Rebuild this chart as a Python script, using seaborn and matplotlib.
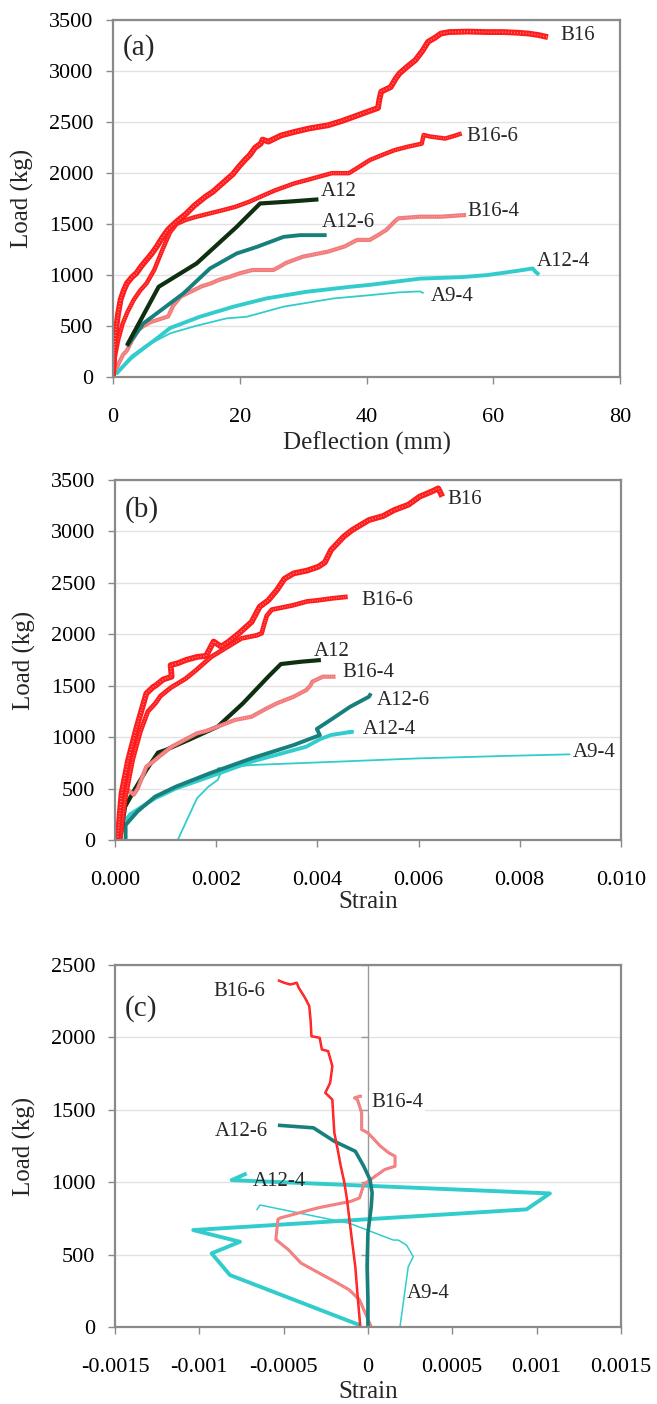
import numpy as np
import pandas as pd
import matplotlib
matplotlib.use("Agg")
import matplotlib.pyplot as plt
import seaborn as sns

sns.set_theme(style="white")
plt.rcParams['font.family'] = ['Liberation Serif', 'DejaVu Serif']

# ---------------- (a) load vs mid-span deflection ----------------
a_b16_x = [0, 0.2, 0.4, 0.8, 1.2, 1.7, 2.2, 3.0, 3.7, 4.5, 5.3, 6.1, 6.9, 7.8, 8.6, 9.4, 10.3,
           11.5, 12.8, 13.6, 14.6, 15.8, 16.7, 17.8, 18.9, 19.8, 20.8, 21.6, 22.4, 23.3, 23.6,
           24.5, 26.5, 28.6, 31.0, 33.9, 36.0, 37.8, 40.0, 41.8, 42.0, 42.3, 43.8, 44.6, 45.2,
           46.5, 47.7, 48.8, 49.7, 50.8, 51.7, 53.0, 56.0, 59.0, 61.6, 64.0, 65.6, 67.2, 68.6]
a_b16_y = [0, 250, 430, 620, 760, 850, 920, 980, 1020, 1090, 1150, 1210, 1280, 1370, 1440, 1490,
           1540, 1600, 1680, 1720, 1770, 1820, 1870, 1930, 1990, 2060, 2130, 2180, 2250, 2290,
           2330, 2310, 2370, 2405, 2440, 2470, 2510, 2550, 2600, 2640, 2720, 2800, 2845, 2930,
           2980, 3050, 3110, 3200, 3290, 3330, 3370, 3385, 3390, 3385, 3385, 3378, 3370, 3355, 3335]

a_b16_6_x = [0, 0.3, 0.8, 1.5, 2.3, 3.3, 4.3, 5.3, 6.5, 7.8, 9.0, 10.0, 11.4, 13.0, 15.3, 17.5,
             19.3, 21.5, 23.3, 25.5, 28.6, 31.0, 34.5, 37.2, 38.5, 40.5, 42.5, 44.4, 46.5, 48.7,
             49.0, 50.0, 52.4, 54.0, 55.0]
a_b16_6_y = [0, 200, 360, 520, 640, 760, 850, 920, 1050, 1250, 1420, 1500, 1540, 1570, 1606, 1640,
             1670, 1720, 1770, 1830, 1900, 1940, 2000, 2000, 2050, 2129, 2180, 2226, 2260, 2290,
             2375, 2360, 2340, 2370, 2390]

a_b16_4_x = [0, 0.8, 1.6, 2.2, 3.0, 4.0, 4.8, 6.0, 7.5, 8.7, 9.5, 10.7, 12.0, 14.0, 15.5, 16.7,
             18.5, 20.0, 22.0, 25.3, 26.5, 27.2, 29.9, 31.5, 33.9, 36.5, 38.5, 40.5, 42.0, 43.1,
             44.4, 45.0, 48.4, 51.7, 55.7]
a_b16_4_y = [0, 120, 220, 260, 360, 460, 500, 540, 570, 594, 700, 790, 830, 890, 920, 953,
             985, 1018, 1050, 1050, 1090, 1117, 1180, 1200, 1230, 1280, 1345, 1345, 1400, 1443,
             1525, 1557, 1573, 1573, 1590]

a_a12_x = [2.2, 7.2, 13.2, 19.5, 23.2, 27.5, 32.4]
a_a12_y = [310, 885, 1115, 1473, 1703, 1720, 1743]

a_a12_6_x = [2.2, 4.8, 11.1, 15.3, 19.5, 22.7, 26.9, 29.5, 33.7]
a_a12_6_y = [300, 526, 820, 1065, 1212, 1277, 1375, 1392, 1392]

a_a12_4_x = [0.5, 3.0, 6.6, 9.0, 13.7, 19.0, 24.2, 30.5, 37.4, 40.5, 48.4, 55.0, 59.0, 63.6,
             66.2, 66.6, 67.2]
a_a12_4_y = [30, 200, 363, 480, 591, 690, 771, 836, 885, 904, 965, 980, 1000, 1040,
             1065, 1035, 1002]

a_a9_4_x = [0.5, 3.0, 6.0, 9.0, 13.0, 17.9, 21.1, 26.9, 34.8, 40.0, 45.0, 48.4, 49.0]
a_a9_4_y = [30, 180, 330, 428, 500, 575, 591, 690, 771, 800, 830, 840, 822]

# ---------------- (b) load vs tension steel strain ----------------
b_b16_x = [0.00005, 0.00013, 0.00026, 0.00043, 0.00062, 0.00076, 0.0008, 0.00095, 0.00112,
           0.0011, 0.00125, 0.0014, 0.00162, 0.0018, 0.00195, 0.0021, 0.00225, 0.00245, 0.0027,
           0.00286, 0.00303, 0.0032, 0.00335, 0.00353, 0.0038, 0.00402, 0.00415, 0.00427,
           0.00452, 0.00469, 0.00502, 0.0053, 0.00552, 0.0058, 0.00602, 0.00627, 0.00639,
           0.00643, 0.00647]
b_b16_y = [0, 454, 777, 1100, 1425, 1490, 1500, 1560, 1588, 1700, 1720, 1750, 1780, 1790, 1930,
           1880, 1930, 2009, 2120, 2268, 2330, 2430, 2540, 2592, 2620, 2657, 2700, 2819, 2949,
           3014, 3111, 3150, 3208, 3260, 3338, 3390, 3419, 3380, 3338]

b_b16_6_x = [0.0001, 0.0002, 0.00035, 0.0005, 0.00065, 0.0008, 0.0009, 0.0011, 0.0014, 0.0016,
             0.0019, 0.0022, 0.0025, 0.0028, 0.0029, 0.00295, 0.003, 0.0031, 0.0035, 0.0038,
             0.004, 0.0043, 0.0046]
b_b16_6_y = [0, 400, 780, 1050, 1250, 1330, 1400, 1480, 1570, 1650, 1780, 1870, 1960, 1990,
             2010, 2100, 2180, 2240, 2280, 2320, 2330, 2350, 2365]

b_b16_4_x = [0.0001, 0.00015, 0.0002, 0.00028, 0.00037, 0.00045, 0.00062, 0.00075, 0.00087,
             0.00112, 0.0014, 0.00162, 0.0018, 0.00203, 0.00237, 0.0027, 0.003, 0.0032,
             0.00353, 0.00378, 0.00386, 0.0039, 0.00411, 0.00436]
b_b16_4_y = [0, 250, 454, 480, 440, 500, 713, 760, 810, 907, 980, 1037, 1060, 1102, 1167, 1199,
             1280, 1329, 1393, 1458, 1500, 1539, 1588, 1588]

b_a12_x = [0.0001, 0.0002, 0.0004, 0.00062, 0.00085, 0.001, 0.00145, 0.00203, 0.00253,
           0.00303, 0.00328, 0.00369, 0.00407]
b_a12_y = [0, 324, 500, 680, 850, 875, 972, 1102, 1329, 1588, 1711, 1734, 1750]

b_a12_6_x = [0.00021, 0.00021, 0.00045, 0.00079, 0.0012, 0.00187, 0.0027, 0.00353, 0.00405,
             0.00399, 0.0043, 0.00465, 0.00502, 0.00506]
b_a12_6_y = [0, 146, 280, 421, 518, 648, 794, 923, 1020, 1080, 1180, 1296, 1393, 1426]

b_a12_4_x = [0.00012, 0.0003, 0.00079, 0.0012, 0.00187, 0.0027, 0.00378, 0.00405, 0.00427,
             0.00469, 0.00462]
b_a12_4_y = [130, 250, 405, 500, 616, 762, 907, 980, 1021, 1053, 1045]

b_a9_4_x = [0.00124, 0.00162, 0.00185, 0.00203, 0.00212, 0.00203, 0.0027, 0.00436, 0.00602,
            0.00768, 0.009]
b_a9_4_y = [0, 405, 520, 583, 680, 697, 729, 761, 794, 817, 833]

# ---------------- (c) load vs compression steel strain ----------------
c_b16_6_x = [-0.000045, -0.00006, -0.000075, -0.0001, -0.000124, -0.00014, -0.000161, -0.00018,
             -0.000199, -0.000205, -0.000211, -0.000253, -0.000224, -0.000211, -0.000236,
             -0.000273, -0.000286, -0.000335, -0.00034, -0.000348, -0.000373, -0.00041,
             -0.000422, -0.000459, -0.000497, -0.000534]
c_b16_6_y = [0, 200, 419, 650, 880, 1000, 1111, 1230, 1341, 1450, 1571, 1618, 1687, 1802, 1906,
             1917, 1998, 2009, 2120, 2217, 2274, 2343, 2378, 2366, 2378, 2396]

c_b16_4_x = [0.00002, -0.00005, -0.000112, -0.000199, -0.0003, -0.000397, -0.000472, -0.000546,
             -0.000534, -0.000522, -0.000298, -0.0000993, -0.0000497, -0.0000248, 0.0,
             0.0000993, 0.000161, 0.000161, 0.000124, 0.0000745, 0.0000373, 0.0, -0.0000373,
             -0.0000373, -0.0000621, -0.0000795, -0.0000497, -0.000035]
c_b16_4_y = [0, 189, 258, 316, 380, 442, 535, 604, 742, 753, 823, 869, 892, 984, 1006, 1088,
             1111, 1180, 1203, 1249, 1295, 1341, 1364, 1479, 1571, 1583, 1594, 1594]

c_a12_6_x = [0.0, 0.0, -0.000005, 0.0, 0.00002, 0.000025, 0.0000124, -0.0000248, -0.0000745,
             -0.000199, -0.000323, -0.000534]
c_a12_6_y = [0, 189, 419, 650, 834, 926, 1018, 1111, 1214, 1283, 1376, 1394]

c_a12_4_x = [-0.00005, -0.000818, -0.000927, -0.000759, -0.001036, 0.000941, 0.001079,
             -0.000808, -0.000719]
c_a12_4_y = [14, 359, 509, 589, 670, 813, 923, 1015, 1061]

c_a9_4_x = [0.00019, 0.000239, 0.000269, 0.000229, 0.00018, 0.00015, -0.000107, -0.00064, -0.00066]
c_a9_4_y = [0, 416, 486, 566, 601, 601, 716, 843, 808]

# tick labels
a_xticks = [0, 20, 40, 60, 80]
load_ticks_ab = [0, 500, 1000, 1500, 2000, 2500, 3000, 3500]
b_xticks = [0.000, 0.002, 0.004, 0.006, 0.008, 0.010]
b_xticklabels = ["0.000", "0.002", "0.004", "0.006", "0.008", "0.010"]
c_xticks = [-0.0015, -0.001, -0.0005, 0.0, 0.0005, 0.001, 0.0015]
c_xticklabels = ["-0.0015", "-0.001", "-0.0005", "0", "0.0005", "0.001", "0.0015"]
load_ticks_c = [0, 500, 1000, 1500, 2000, 2500]

RED = "#ff1c1c"
PINK = "#f27a7a"
DKGREEN = "#0e2f10"
TEAL = "#18807c"
TURQ = "#33cccc"
GRID = "#e2e2e2"
FRAME = "#8a8a8a"


def curve(ax, x, y, color, lw, speckle=False):
    df = pd.DataFrame({"x": x, "y": y})
    sns.lineplot(data=df, x="x", y="y", sort=False, estimator=None, color=color, lw=lw,
                 ax=ax, legend=False, solid_joinstyle="round", solid_capstyle="butt")
    if speckle:
        # fine white stipple over the red trace (patterned line fill)
        sns.lineplot(data=df, x="x", y="y", sort=False, estimator=None, color="white",
                     lw=lw * 0.28, alpha=0.5, linestyle=(0, (0.5, 1.3)), ax=ax, legend=False)


def frame(ax, xlim, ylim, xticks, yticks, xlabels, xlabel, xlabelpad):
    ax.set_xlim(*xlim)
    ax.set_ylim(*ylim)
    ax.set_xticks(xticks)
    ax.set_xticklabels(xlabels)
    ax.set_yticks(yticks)
    ax.set_yticklabels([str(v) for v in yticks])
    ax.yaxis.grid(True, color=GRID, lw=1.0)
    ax.xaxis.grid(False)
    ax.set_axisbelow(True)
    for s in ax.spines.values():
        s.set_color(FRAME)
        s.set_linewidth(1.6)
    ax.tick_params(axis="both", which="both", bottom=True, left=True, direction="out",
                   length=5, width=1.0, color=FRAME, labelsize=16, labelcolor="black")
    ax.tick_params(axis="x", pad=17)
    ax.tick_params(axis="y", pad=9)
    ax.set_xlabel(xlabel, fontsize=18, labelpad=xlabelpad)
    ax.set_ylabel("Load (kg)", fontsize=18, labelpad=11)


fig = plt.figure(figsize=(6.57, 14.04), dpi=100)
ax_a = fig.add_axes([0.172, 0.7315, 0.772, 0.254])
ax_b = fig.add_axes([0.175, 0.4017, 0.770, 0.2564])
ax_c = fig.add_axes([0.175, 0.0548, 0.770, 0.2578])

LBL = 15

# (a)
curve(ax_a, a_b16_4_x, a_b16_4_y, PINK, 3.0, speckle=True)
curve(ax_a, a_a9_4_x, a_a9_4_y, TURQ, 1.3)
curve(ax_a, a_a12_4_x, a_a12_4_y, TURQ, 2.8)
curve(ax_a, a_a12_6_x, a_a12_6_y, TEAL, 2.8)
curve(ax_a, a_a12_x, a_a12_y, DKGREEN, 3.0)
curve(ax_a, a_b16_6_x, a_b16_6_y, RED, 3.2, speckle=True)
curve(ax_a, a_b16_x, a_b16_y, RED, 4.2, speckle=True)
frame(ax_a, (0, 80), (0, 3500), a_xticks, load_ticks_ab, [str(v) for v in a_xticks],
      "Deflection (mm)", 4)
ax_a.text(0.051, 0.925, "(a)", transform=ax_a.transAxes, fontsize=21, ha="center", va="center")
ax_a.text(70.5, 3353, "B16", fontsize=LBL, va="center")
ax_a.text(55.7, 2357, "B16-6", fontsize=LBL, va="center")
ax_a.text(32.7, 1818, "A12", fontsize=LBL, va="center")
ax_a.text(32.9, 1515, "A12-6", fontsize=LBL, va="center")
ax_a.text(55.9, 1622, "B16-4", fontsize=LBL, va="center")
ax_a.text(66.9, 1133, "A12-4", fontsize=LBL, va="center")
ax_a.text(50.2, 790, "A9-4", fontsize=LBL, va="center")

# (b)
curve(ax_b, b_a9_4_x, b_a9_4_y, TURQ, 1.3)
curve(ax_b, b_a12_4_x, b_a12_4_y, TURQ, 2.8)
curve(ax_b, b_a12_6_x, b_a12_6_y, TEAL, 2.8)
curve(ax_b, b_a12_x, b_a12_y, DKGREEN, 3.0)
curve(ax_b, b_b16_4_x, b_b16_4_y, PINK, 3.0, speckle=True)
curve(ax_b, b_b16_6_x, b_b16_6_y, RED, 3.4, speckle=True)
curve(ax_b, b_b16_x, b_b16_y, RED, 4.2, speckle=True)
frame(ax_b, (0, 0.010), (0, 3500), b_xticks, load_ticks_ab, b_xticklabels, "Strain", 1)
ax_b.text(0.054, 0.917, "(b)", transform=ax_b.transAxes, fontsize=21, ha="center", va="center")
ax_b.text(0.00658, 3310, "B16", fontsize=LBL, va="center")
ax_b.text(0.00487, 2333, "B16-6", fontsize=LBL, va="center")
ax_b.text(0.00393, 1837, "A12", fontsize=LBL, va="center")
ax_b.text(0.0045, 1630, "B16-4", fontsize=LBL, va="center")
ax_b.text(0.00517, 1354, "A12-6", fontsize=LBL, va="center")
ax_b.text(0.0049, 1076, "A12-4", fontsize=LBL, va="center")
ax_b.text(0.00905, 849, "A9-4", fontsize=LBL, va="center")

# (c)
ax_c.axvline(0, color="#9a9a9a", lw=1.0, zorder=1)
ax_c.plot(np.zeros(len(load_ticks_c)), load_ticks_c, linestyle="none", marker=0,
          markersize=5, color="#9a9a9a", zorder=1)
curve(ax_c, c_a9_4_x, c_a9_4_y, TURQ, 1.1)
curve(ax_c, c_a12_4_x, c_a12_4_y, TURQ, 2.8)
curve(ax_c, c_b16_4_x, c_b16_4_y, PINK, 2.2, speckle=True)
curve(ax_c, c_a12_6_x, c_a12_6_y, TEAL, 2.6)
curve(ax_c, c_b16_6_x, c_b16_6_y, RED, 1.8, speckle=True)
frame(ax_c, (-0.0015, 0.0015), (0, 2500), c_xticks, load_ticks_c, c_xticklabels, "Strain", 3)
ax_c.text(0.051, 0.881, "(c)", transform=ax_c.transAxes, fontsize=21, ha="center", va="center")
ax_c.text(-0.000919, 2320, "B16-6", fontsize=LBL, va="center")
ax_c.text(0.00002, 1548, "B16-4", fontsize=LBL, va="center",
          bbox=dict(facecolor="white", edgecolor="none", pad=1.5))
ax_c.text(-0.000906, 1348, "A12-6", fontsize=LBL, va="center")
ax_c.text(-0.000683, 1007, "A12-4", fontsize=LBL, va="center")
ax_c.text(0.000228, 235, "A9-4", fontsize=LBL, va="center")

fig.savefig("out.png", dpi=100)
